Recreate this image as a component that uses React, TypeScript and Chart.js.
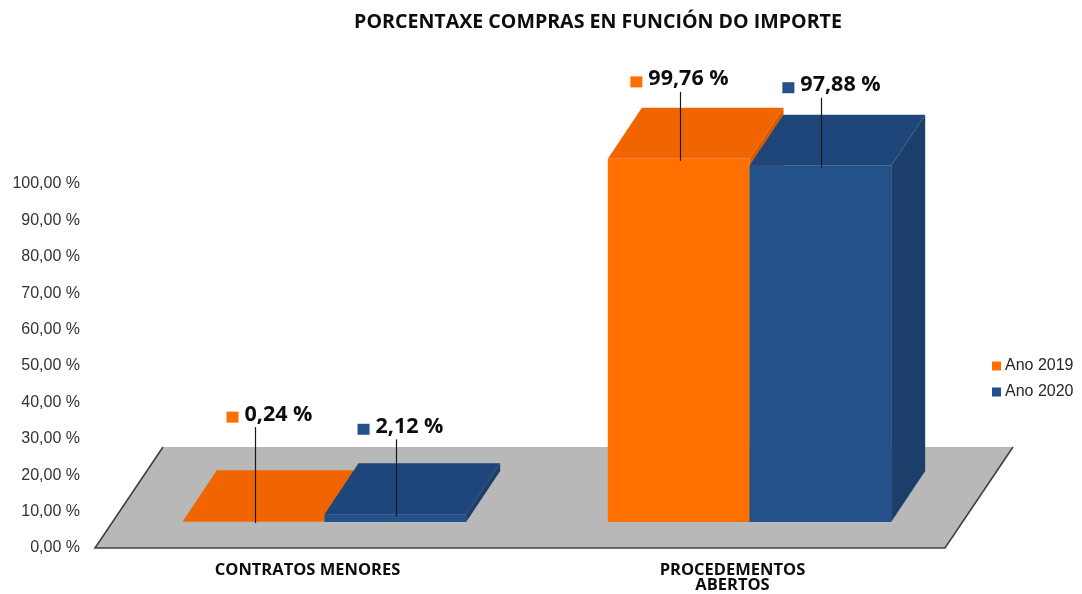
import { useEffect, useRef } from 'react';
import { Chart, registerables } from 'chart.js';

Chart.register(...registerables);

// ---- data ----
const TITLE = 'PORCENTAXE COMPRAS EN FUNCIÓN DO IMPORTE';
const CATEGORIES = [['CONTRATOS MENORES'], ['PROCEDEMENTOS', 'ABERTOS']];
const SERIES_NAMES = ['Ano 2019', 'Ano 2020'];
const VALUES_2019 = [0.24, 99.76];
const VALUES_2020 = [2.12, 97.88];
const Y_TICK_VALUES = [0, 10, 20, 30, 40, 50, 60, 70, 80, 90, 100];

// ---- styles / layout ----
const FRONT = ['#FF7000', '#23518A'];
const TOP = ['#F06500', '#1F467A'];
const SIDE = ['#D85A00', '#1C3E6B'];
const FLOOR_DX = 68;
const FLOOR_DY = -101;
const BAR_OX = 17;
const BAR_OY = -26;
const BAR_DX = 34;
const BAR_DY = -51;
// per series, per category: [horizontal shift of label, leader length]
const LABEL_LAYOUT = [
  [[14, 94], [-1, 67]],
  [[4, 75], [10, 68]],
];

const fmt = (v: number) => v.toFixed(2).replace('.', ',') + ' %';

const threeD = {
  id: 'threeD',
  beforeDatasetsDraw(chart: any) {
    const { ctx, chartArea } = chart;
    const B = chart.scales.y.getPixelForValue(0);
    const L = chartArea.left;
    const R = chartArea.right;
    ctx.save();
    ctx.beginPath();
    ctx.moveTo(L, B);
    ctx.lineTo(R, B);
    ctx.lineTo(R + FLOOR_DX, B + FLOOR_DY);
    ctx.lineTo(L + FLOOR_DX, B + FLOOR_DY);
    ctx.closePath();
    ctx.fillStyle = '#B8B8B8';
    ctx.fill();
    ctx.beginPath();
    ctx.moveTo(L + FLOOR_DX, B + FLOOR_DY);
    ctx.lineTo(L, B);
    ctx.lineTo(R, B);
    ctx.lineTo(R + FLOOR_DX, B + FLOOR_DY);
    ctx.strokeStyle = '#404040';
    ctx.lineWidth = 1.6;
    ctx.stroke();
    ctx.restore();
  },
  // bars are painted below in left-to-right order, so the default pass is skipped
  beforeDatasetDraw() {
    return false;
  },
  afterDatasetsDraw(chart: any) {
    const { ctx, chartArea } = chart;
    // bars: front face drawn by the bar element, then top and side faces
    chart.data.datasets.forEach((_ds: any, i: number) => {
      const meta = chart.getDatasetMeta(i);
      meta.data.forEach((el: any) => {
        ctx.save();
        ctx.translate(BAR_OX, BAR_OY);
        el.draw(ctx, chartArea);
        const { x, y, base, width } = el.getProps(['x', 'y', 'base', 'width'], true);
        const l = x - width / 2;
        const r = x + width / 2;
        ctx.beginPath();
        ctx.moveTo(l, y);
        ctx.lineTo(l + BAR_DX, y + BAR_DY);
        ctx.lineTo(r + BAR_DX, y + BAR_DY);
        ctx.lineTo(r, y);
        ctx.closePath();
        ctx.fillStyle = TOP[i];
        ctx.fill();
        ctx.beginPath();
        ctx.moveTo(r, y);
        ctx.lineTo(r + BAR_DX, y + BAR_DY);
        ctx.lineTo(r + BAR_DX, base + BAR_DY);
        ctx.lineTo(r, base);
        ctx.closePath();
        ctx.fillStyle = SIDE[i];
        ctx.fill();
        ctx.restore();
      });
    });
    // data labels with leader lines
    ctx.save();
    chart.data.datasets.forEach((ds: any, i: number) => {
      const meta = chart.getDatasetMeta(i);
      meta.data.forEach((el: any, j: number) => {
        const { x, y } = el.getProps(['x', 'y'], true);
        const [dx, lift] = LABEL_LAYOUT[i][j];
        const cx = Math.round(x + BAR_OX) + 1.5;
        const top = y + BAR_OY;
        ctx.beginPath();
        ctx.moveTo(cx, top + 2);
        ctx.lineTo(cx, top - lift);
        ctx.strokeStyle = '#1a1a1a';
        ctx.lineWidth = 1.2;
        ctx.stroke();
        const text = fmt(ds.data[j]);
        ctx.font = 'bold 21.5px "Open Sans"';
        const tw = ctx.measureText(text).width;
        const bw = 12 + 6 + tw;
        const left = cx + dx - bw / 2;
        const baseline = top - lift - 14 + 7.5;
        ctx.fillStyle = FRONT[i];
        ctx.fillRect(left, baseline - 9, 12, 11);
        ctx.fillStyle = '#0d0d0d';
        ctx.textAlign = 'left';
        ctx.textBaseline = 'alphabetic';
        ctx.fillText(text, left + 18, baseline);
      });
    });
    ctx.restore();
  },
  afterDraw(chart: any) {
    const { ctx } = chart;
    ctx.save();
    // title
    ctx.font = 'bold 19.6px "Open Sans"';
    ctx.fillStyle = '#0d0d0d';
    ctx.textAlign = 'center';
    ctx.textBaseline = 'middle';
    ctx.fillText(TITLE, 598, 22);
    // legend
    ctx.font = '16px "Liberation Sans"';
    ctx.textAlign = 'left';
    SERIES_NAMES.forEach((name, i) => {
      const yy = 366 + i * 26;
      ctx.fillStyle = FRONT[i];
      ctx.fillRect(992, yy - 4.5, 9, 9);
      ctx.fillStyle = '#262626';
      ctx.fillText(name, 1005, yy);
    });
    ctx.restore();
  },
};

export default function App() {
  const ref = useRef<HTMLCanvasElement>(null);
  useEffect(() => {
    const chart = new Chart(ref.current as HTMLCanvasElement, {
      type: 'bar',
      data: {
        labels: CATEGORIES as any,
        datasets: [
          {
            label: SERIES_NAMES[0],
            data: VALUES_2019,
            backgroundColor: FRONT[0],
            borderWidth: 0,
            categoryPercentage: 0.6667,
            barPercentage: 1,
          },
          {
            label: SERIES_NAMES[1],
            data: VALUES_2020,
            backgroundColor: FRONT[1],
            borderWidth: 0,
            categoryPercentage: 0.6667,
            barPercentage: 1,
          },
        ],
      },
      options: {
        responsive: false,
        animation: false,
        events: [],
        layout: { padding: { top: 184, right: 137, left: 0, bottom: 0 } },
        plugins: {
          legend: { display: false },
          title: { display: false },
          tooltip: { enabled: false },
        },
        scales: {
          x: {
            grid: { display: false, drawTicks: false },
            border: { display: false },
            ticks: {
              color: '#0d0d0d',
              font: { family: 'Open Sans', weight: 'bold', size: 16.5, lineHeight: '15px' },
              padding: 15,
              maxRotation: 0,
              autoSkip: false,
            },
            afterFit: (s: any) => {
              s.height = 46;
            },
          },
          y: {
            min: 0,
            max: 100,
            grid: { display: false, drawTicks: false },
            border: { display: false },
            afterBuildTicks: (s: any) => {
              s.ticks = Y_TICK_VALUES.map((v) => ({ value: v }));
            },
            ticks: {
              color: '#333333',
              font: { family: 'Liberation Sans', size: 16 },
              padding: 15,
              callback: (v: any) => fmt(Number(v)),
            },
            afterFit: (s: any) => {
              s.width = 95;
            },
          },
        },
      },
      plugins: [threeD],
    });
    return () => chart.destroy();
  }, []);
  return (
    <div style={{ position: 'fixed', left: 0, top: 0, width: 1082, height: 594, background: '#fff' }}>
      <canvas ref={ref} width={1082} height={594} style={{ display: 'block' }} />
    </div>
  );
}
